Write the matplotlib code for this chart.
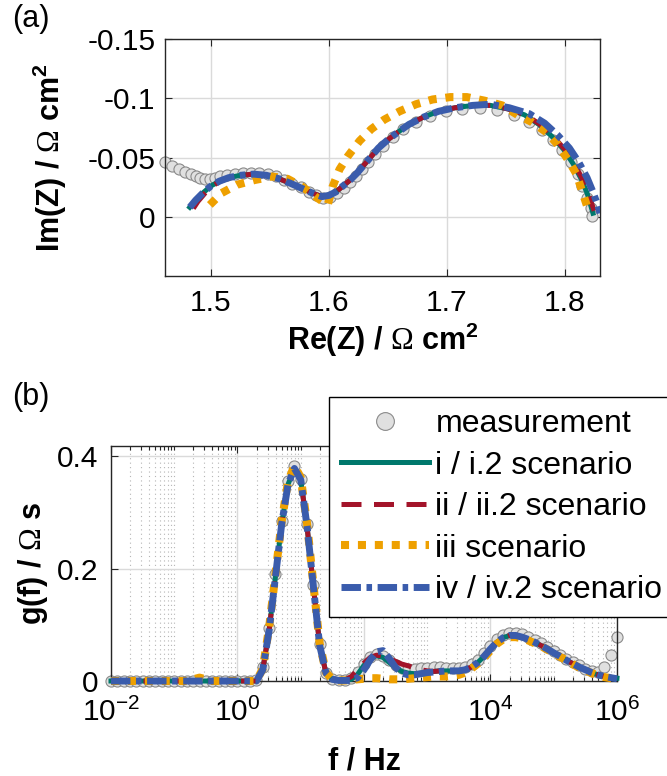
import matplotlib
matplotlib.use("Agg")
import matplotlib.pyplot as plt
from matplotlib.ticker import LogLocator, NullFormatter

plt.rcParams["font.family"] = ["Liberation Sans", "DejaVu Sans"]
plt.rcParams["axes.unicode_minus"] = False
plt.rcParams["mathtext.fontset"] = "custom"
plt.rcParams["mathtext.rm"] = "Liberation Serif"
plt.rcParams["mathtext.bf"] = "Liberation Sans:bold"
plt.rcParams["mathtext.it"] = "Liberation Sans:italic"

# ---- panel (a): Nyquist plot, Re(Z) and Im(Z) in Ohm cm^2 ----
re_meas = [1.461, 1.467, 1.473, 1.478, 1.483, 1.487, 1.491, 1.495, 1.499, 1.503,
           1.508, 1.514, 1.520, 1.527, 1.534, 1.541, 1.548, 1.555, 1.562, 1.569,
           1.576, 1.583, 1.589, 1.595, 1.601, 1.607, 1.613, 1.618, 1.623, 1.628,
           1.633, 1.639, 1.646, 1.654, 1.663, 1.674, 1.686, 1.699, 1.713, 1.728,
           1.743, 1.757, 1.770, 1.781, 1.790, 1.798, 1.805, 1.811, 1.815, 1.819,
           1.822, 1.823]
im_meas = [-0.046, -0.043, -0.040, -0.038, -0.036, -0.034, -0.033, -0.032, -0.032, -0.033,
           -0.034, -0.035, -0.036, -0.037, -0.037, -0.037, -0.036, -0.034, -0.031, -0.028,
           -0.025, -0.021, -0.018, -0.016, -0.017, -0.020, -0.024, -0.029, -0.034, -0.040,
           -0.046, -0.053, -0.060, -0.067, -0.074, -0.080, -0.085, -0.089, -0.091, -0.092,
           -0.090, -0.086, -0.080, -0.073, -0.065, -0.056, -0.046, -0.036, -0.026, -0.016,
           -0.007, -0.001]

re_i = [1.482, 1.487, 1.493, 1.500, 1.507, 1.515, 1.525, 1.536, 1.547, 1.558,
        1.568, 1.577, 1.586, 1.594, 1.600, 1.606, 1.612, 1.618, 1.624, 1.630,
        1.636, 1.642, 1.650, 1.658, 1.668, 1.680, 1.693, 1.707, 1.722, 1.737,
        1.752, 1.766, 1.778, 1.789, 1.799, 1.807, 1.814, 1.819, 1.822, 1.824]
im_i = [-0.008, -0.014, -0.020, -0.026, -0.030, -0.033, -0.035, -0.036, -0.035, -0.032,
        -0.028, -0.024, -0.020, -0.017, -0.018, -0.021, -0.026, -0.031, -0.037, -0.044,
        -0.051, -0.058, -0.065, -0.071, -0.078, -0.084, -0.089, -0.092, -0.094, -0.094,
        -0.091, -0.086, -0.078, -0.068, -0.057, -0.045, -0.032, -0.020, -0.010, -0.003]

re_ii = [1.485, 1.489, 1.495, 1.501, 1.508, 1.516, 1.525, 1.536, 1.547, 1.558,
         1.568, 1.577, 1.586, 1.594, 1.600, 1.606, 1.612, 1.618, 1.624, 1.630,
         1.636, 1.642, 1.650, 1.658, 1.668, 1.680, 1.693, 1.707, 1.722, 1.737,
         1.752, 1.767, 1.779, 1.790, 1.800, 1.808, 1.815, 1.820, 1.823, 1.825]
im_ii = [-0.007, -0.013, -0.020, -0.026, -0.030, -0.033, -0.035, -0.036, -0.035, -0.032,
         -0.028, -0.024, -0.020, -0.017, -0.018, -0.021, -0.026, -0.031, -0.037, -0.044,
         -0.051, -0.058, -0.065, -0.071, -0.078, -0.084, -0.089, -0.092, -0.094, -0.094,
         -0.091, -0.086, -0.078, -0.068, -0.057, -0.045, -0.032, -0.020, -0.011, -0.005]

re_iii = [1.499, 1.509, 1.522, 1.537, 1.552, 1.565, 1.578, 1.590, 1.599, 1.603,
          1.609, 1.616, 1.626, 1.636, 1.647, 1.660, 1.674, 1.688, 1.703, 1.717,
          1.732, 1.747, 1.760, 1.772, 1.785, 1.794, 1.803, 1.810, 1.815, 1.820]
im_iii = [-0.010, -0.020, -0.027, -0.031, -0.034, -0.032, -0.025, -0.016, -0.010, -0.025,
          -0.040, -0.051, -0.064, -0.074, -0.082, -0.089, -0.095, -0.099, -0.101, -0.101,
          -0.098, -0.094, -0.086, -0.080, -0.071, -0.061, -0.048, -0.036, -0.021, -0.006]

re_iv = [1.482, 1.487, 1.493, 1.500, 1.507, 1.515, 1.525, 1.536, 1.547, 1.558,
         1.568, 1.577, 1.586, 1.594, 1.600, 1.606, 1.612, 1.618, 1.624, 1.630,
         1.636, 1.642, 1.650, 1.658, 1.668, 1.680, 1.693, 1.707, 1.722, 1.737,
         1.753, 1.770, 1.783, 1.794, 1.804, 1.812, 1.819, 1.824, 1.828, 1.830]
im_iv = [-0.008, -0.014, -0.020, -0.026, -0.030, -0.033, -0.035, -0.036, -0.035, -0.032,
         -0.028, -0.024, -0.020, -0.017, -0.018, -0.021, -0.026, -0.031, -0.037, -0.044,
         -0.051, -0.058, -0.065, -0.071, -0.078, -0.084, -0.089, -0.092, -0.094, -0.095,
         -0.092, -0.087, -0.079, -0.069, -0.058, -0.046, -0.033, -0.021, -0.010, -0.003]

re_ticks = [1.5, 1.6, 1.7, 1.8]
re_ticklabels = ["1.5", "1.6", "1.7", "1.8"]
im_ticks = [-0.15, -0.1, -0.05, 0]
im_ticklabels = ["-0.15", "-0.1", "-0.05", "0"]

# ---- panel (b): distribution of relaxation times ----
freq_exp = [-2.0, -1.9, -1.8, -1.7, -1.6, -1.5, -1.4, -1.3, -1.2, -1.1,
            -1.0, -0.9, -0.8, -0.7, -0.6, -0.5, -0.4, -0.3, -0.2, -0.1,
            0.0, 0.1, 0.2, 0.3, 0.4, 0.5, 0.6, 0.7, 0.8, 0.9,
            1.0, 1.1, 1.2, 1.3, 1.4, 1.5, 1.6, 1.7, 1.8, 1.9,
            2.0, 2.1, 2.2, 2.3, 2.4, 2.5, 2.6, 2.7, 2.8, 2.9,
            3.0, 3.1, 3.2, 3.3, 3.4, 3.5, 3.6, 3.7, 3.8, 3.9,
            4.0, 4.1, 4.2, 4.3, 4.4, 4.5, 4.6, 4.7, 4.8, 4.9,
            5.0, 5.1, 5.2, 5.3, 5.4, 5.5, 5.6, 5.7, 5.8, 5.9,
            6.0]
freq = [10 ** e for e in freq_exp]

g_meas = [0.0, 0.0, 0.0, 0.0, 0.0, 0.0, 0.0, 0.0, 0.0, 0.0,
          0.0, 0.0, 0.0, 0.0, 0.0, 0.0, 0.0, 0.0, 0.0, 0.0,
          0.0, 0.0, 0.0, 0.001, 0.025, 0.095, 0.190, 0.285, 0.355, 0.383,
          0.360, 0.280, 0.170, 0.065, 0.015, 0.004, 0.002, 0.002, 0.006, 0.016,
          0.031, 0.043, 0.048, 0.045, 0.037, 0.029, 0.024, 0.022, 0.022, 0.023,
          0.024, 0.025, 0.025, 0.024, 0.023, 0.023, 0.025, 0.030, 0.038, 0.049,
          0.062, 0.074, 0.082, 0.086, 0.086, 0.083, 0.078, 0.073, 0.067, 0.061,
          0.054, 0.047, 0.040, 0.034, 0.028, 0.022, 0.017, 0.016, 0.025, 0.047,
          0.078]
g_i = [0.0, 0.0, 0.0, 0.0, 0.0, 0.0, 0.0, 0.0, 0.0, 0.0,
       0.0, 0.0, 0.0, 0.0, 0.0, 0.0, 0.0, 0.0, 0.0, 0.0,
       0.0, 0.0, 0.0, 0.0, 0.020, 0.090, 0.185, 0.280, 0.350, 0.378,
       0.358, 0.275, 0.168, 0.063, 0.014, 0.003, 0.001, 0.001, 0.003, 0.012,
       0.028, 0.040, 0.045, 0.042, 0.033, 0.024, 0.017, 0.014, 0.013, 0.014,
       0.016, 0.017, 0.018, 0.018, 0.018, 0.018, 0.020, 0.025, 0.033, 0.044,
       0.057, 0.069, 0.077, 0.081, 0.081, 0.078, 0.074, 0.069, 0.063, 0.057,
       0.050, 0.044, 0.037, 0.031, 0.025, 0.020, 0.015, 0.011, 0.008, 0.006,
       0.005]
g_ii = [0.0, 0.0, 0.0, 0.0, 0.0, 0.0, 0.0, 0.0, 0.0, 0.0,
        0.0, 0.0, 0.0, 0.0, 0.0, 0.0, 0.0, 0.0, 0.0, 0.0,
        0.0, 0.0, 0.0, 0.0, 0.020, 0.090, 0.185, 0.280, 0.350, 0.378,
        0.358, 0.275, 0.168, 0.063, 0.014, 0.003, 0.001, 0.002, 0.008, 0.020,
        0.032, 0.042, 0.046, 0.044, 0.040, 0.035, 0.030, 0.027, 0.023, 0.020,
        0.018, 0.017, 0.018, 0.018, 0.018, 0.018, 0.020, 0.025, 0.033, 0.044,
        0.057, 0.069, 0.077, 0.081, 0.081, 0.078, 0.074, 0.069, 0.063, 0.057,
        0.050, 0.044, 0.037, 0.031, 0.025, 0.020, 0.015, 0.011, 0.008, 0.006,
        0.005]
g_iii = [0.0, 0.0, 0.0, 0.0, 0.0, 0.0, 0.0, 0.0, 0.0, 0.0,
         0.0, 0.0, 0.0, 0.003, 0.006, 0.003, 0.0, 0.0, 0.0, 0.0,
         0.0, 0.0, 0.0, 0.0, 0.022, 0.095, 0.190, 0.285, 0.355, 0.383,
         0.362, 0.280, 0.172, 0.066, 0.015, 0.003, 0.001, 0.001, 0.002, 0.003,
         0.004, 0.005, 0.005, 0.004, 0.003, 0.003, 0.003, 0.004, 0.005, 0.006,
         0.007, 0.008, 0.008, 0.008, 0.009, 0.011, 0.015, 0.022, 0.031, 0.042,
         0.054, 0.066, 0.074, 0.078, 0.078, 0.076, 0.072, 0.067, 0.062, 0.056,
         0.050, 0.043, 0.037, 0.030, 0.024, 0.019, 0.014, 0.010, 0.007, 0.005,
         0.004]
g_iv = [0.0, 0.0, 0.0, 0.0, 0.0, 0.0, 0.0, 0.0, 0.0, 0.0,
        0.0, 0.0, 0.0, 0.0, 0.0, 0.0, 0.0, 0.0, 0.0, 0.0,
        0.0, 0.0, 0.0, 0.0, 0.020, 0.090, 0.185, 0.280, 0.350, 0.378,
        0.358, 0.275, 0.168, 0.063, 0.014, 0.003, 0.001, 0.001, 0.001, 0.006,
        0.020, 0.038, 0.052, 0.054, 0.040, 0.024, 0.014, 0.011, 0.011, 0.013,
        0.015, 0.016, 0.017, 0.018, 0.018, 0.018, 0.020, 0.025, 0.033, 0.044,
        0.057, 0.069, 0.077, 0.081, 0.081, 0.078, 0.074, 0.069, 0.063, 0.057,
        0.050, 0.044, 0.037, 0.031, 0.025, 0.020, 0.015, 0.011, 0.008, 0.006,
        0.004]

freq_ticks = [1e-2, 1e0, 1e2, 1e4, 1e6]
g_ticks = [0, 0.2, 0.4]
g_ticklabels = ["0", "0.2", "0.4"]

labels = ["measurement", "i / i.2 scenario", "ii / ii.2 scenario",
          "iii scenario", "iv / iv.2 scenario"]

C_GREEN = "#00786C"
C_RED = "#A3142A"
C_ORANGE = "#EEA000"
C_BLUE = "#3A5CAC"
SPINE = "#262626"

meas_kw = dict(ls="none", marker="o", ms=8, mfc="#e0e0e0", mec="#8a8a8a", mew=0.8,
               clip_on=False, zorder=2)
fit_kw = [
    dict(color=C_GREEN, lw=3.6, ls="-", zorder=3),
    dict(color=C_RED, lw=3.6, ls=(0, (4, 2.5)), zorder=4),
    dict(color=C_ORANGE, lw=5.8, ls=(0, (1, 1.1)), dash_capstyle="butt", zorder=5),
    dict(color=C_BLUE, lw=5.0, ls=(0, (2.8, 0.8, 0.8, 0.8)), dash_capstyle="butt", zorder=6),
]


def style_axes(ax, tick_fs):
    for sp in ax.spines.values():
        sp.set_color(SPINE)
        sp.set_linewidth(1.0)
    ax.tick_params(which="both", direction="in", top=True, right=True,
                   colors=SPINE, labelcolor="black", labelsize=tick_fs, width=0.8)
    ax.tick_params(which="major", length=5)
    ax.tick_params(which="minor", length=3)


fig = plt.figure(figsize=(6.67, 7.76), dpi=100)

# (a)
ax_a = fig.add_axes([0.2474, 0.6443, 0.6522, 0.3054])
ax_a.plot(re_meas, im_meas, **meas_kw)
for (re, im), kw in zip([(re_i, im_i), (re_ii, im_ii), (re_iii, im_iii), (re_iv, im_iv)], fit_kw):
    ax_a.plot(re, im, **kw)
ax_a.set_xlim(1.461, 1.83)
ax_a.set_ylim(0.05, -0.15)
ax_a.set_xticks(re_ticks, re_ticklabels)
ax_a.set_yticks(im_ticks, im_ticklabels)
ax_a.grid(True, color="#dadada", lw=1.0)
ax_a.set_axisbelow(True)
style_axes(ax_a, 21.5)
ax_a.tick_params(axis="x", pad=9)
ax_a.tick_params(axis="y", pad=7)
ax_a.set_xlabel(r"Re(Z) / $\Omega$ cm$^{\mathbf{2}}$", fontsize=22, fontweight="bold")
ax_a.set_ylabel(r"Im(Z) / $\Omega$ cm$^{\mathbf{2}}$", fontsize=22, fontweight="bold")
ax_a.xaxis.set_label_coords(0.5, -0.19)
ax_a.yaxis.set_label_coords(-0.22, 0.5)

# (b)
ax_b = fig.add_axes([0.1664, 0.1224, 0.7586, 0.3029])
h_meas, = ax_b.plot(freq, g_meas, **meas_kw)
handles = [h_meas]
for g, kw in zip([g_i, g_ii, g_iii, g_iv], fit_kw):
    h, = ax_b.plot(freq, g, clip_on=False, **kw)
    handles.append(h)
ax_b.set_xscale("log")
ax_b.set_xlim(1e-2, 1e6)
ax_b.set_ylim(0, 0.418)
ax_b.set_xticks(freq_ticks)
ax_b.xaxis.set_minor_locator(LogLocator(base=10, subs=range(1, 10), numticks=100))
ax_b.xaxis.set_minor_formatter(NullFormatter())
ax_b.set_yticks(g_ticks, g_ticklabels)
ax_b.grid(True, which="major", color="#dadada", lw=1.0)
ax_b.grid(True, which="minor", axis="x", color="#b5b5b5", lw=0.8, ls=(0, (1, 3)))
ax_b.set_axisbelow(True)
style_axes(ax_b, 21.5)
ax_b.tick_params(axis="x", pad=12)
ax_b.tick_params(axis="y", pad=9)
ax_b.set_xlabel("f / Hz", fontsize=22, fontweight="bold")
ax_b.set_ylabel(r"g(f) / $\Omega$ s", fontsize=22, fontweight="bold")
ax_b.xaxis.set_label_coords(0.5, -0.28)
ax_b.yaxis.set_label_coords(-0.12, 0.5)

leg = fig.legend(handles, labels, loc="upper left", bbox_to_anchor=(0.4933, 0.4884),
                 fontsize=23, frameon=True, fancybox=False, edgecolor="black",
                 framealpha=1, borderpad=0.38, borderaxespad=0, labelspacing=0.36,
                 handlelength=2.75, handletextpad=0.2, markerscale=1.6)
leg.get_frame().set_linewidth(1.0)
leg.set_zorder(10)

fig.text(0.018, 0.995, "(a)", fontsize=22, va="top", ha="left")
fig.text(0.018, 0.508, "(b)", fontsize=22, va="top", ha="left")

fig.savefig("out.png", dpi=100)
